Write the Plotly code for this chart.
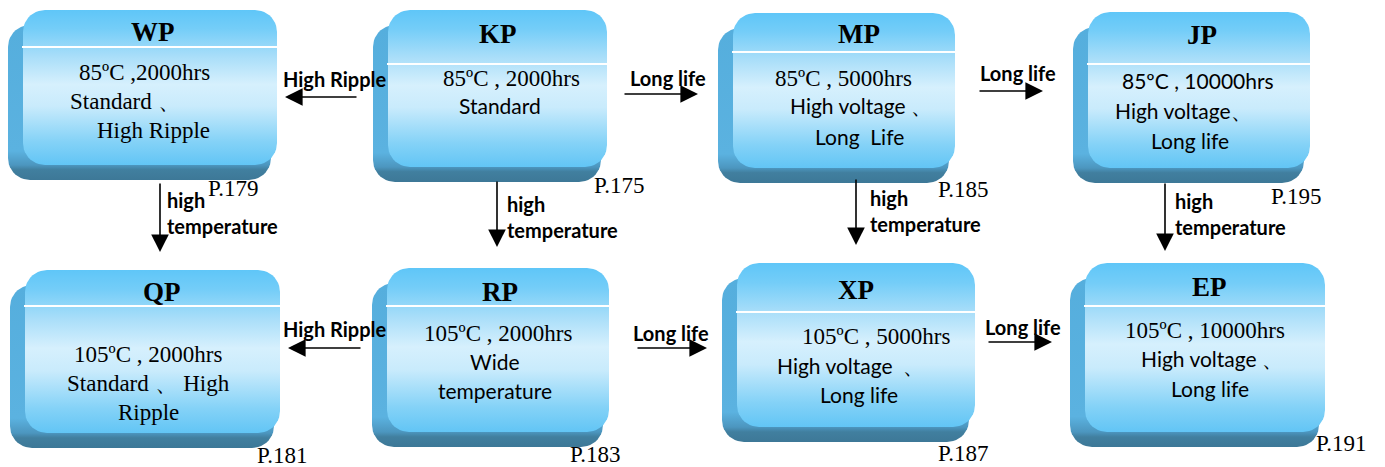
import numpy as np
import plotly.graph_objects as go

# ---------------- data ----------------
series_names = ["WP", "KP", "MP", "JP", "QP", "RP", "XP", "EP"]
series_lines = {
    "WP": [("85ºC ,2000hrs", "serif"), ("Standard 、", "serif"), ("High Ripple", "serif")],
    "KP": [("85ºC , 2000hrs", "serif"), ("Standard", "sans")],
    "MP": [("85ºC , 5000hrs", "serif"), ("High voltage 、", "sans"), ("Long  Life", "sans")],
    "JP": [("85ºC , 10000hrs", "sans"), ("High voltage、", "sans"), ("Long life", "sans")],
    "QP": [("105ºC , 2000hrs", "serif"), ("Standard 、 High", "serif"), ("Ripple", "serif")],
    "RP": [("105ºC , 2000hrs", "serif"), ("Wide", "sans"), ("temperature", "sans")],
    "XP": [("105ºC , 5000hrs", "serif"), ("High voltage  、", "sans"), ("Long life", "sans")],
    "EP": [("105ºC , 10000hrs", "serif"), ("High voltage 、", "sans"), ("Long life", "sans")],
}
page_labels = {"WP": "P.179", "KP": "P.175", "MP": "P.185", "JP": "P.195",
               "QP": "P.181", "RP": "P.183", "XP": "P.187", "EP": "P.191"}
transitions = [
    ("KP", "WP", "High Ripple"),
    ("KP", "MP", "Long life"),
    ("MP", "JP", "Long life"),
    ("WP", "QP", "high<br>temperature"),
    ("KP", "RP", "high<br>temperature"),
    ("MP", "XP", "high<br>temperature"),
    ("JP", "EP", "high<br>temperature"),
    ("RP", "QP", "High Ripple"),
    ("RP", "XP", "Long life"),
    ("XP", "EP", "Long life"),
]

# ---------------- layout (pixel positions) ----------------
W, H = 1385, 467
face = {  # x0, x1, y0, y1, divider y, title y
    "WP": (23, 277, 10, 165, 47, 32),
    "KP": (388, 607, 10, 167, 64, 34),
    "MP": (733, 955, 13, 168, 52, 34),
    "JP": (1088, 1310, 12, 168, 64, 35),
    "QP": (25, 280, 270, 433, 306, 292),
    "RP": (387, 609, 268, 432, 306, 292),
    "XP": (737, 975, 263, 427, 312, 290),
    "EP": (1085, 1325, 263, 432, 306, 287),
}
title_x = {"WP": 153, "KP": 498, "MP": 859, "JP": 1202, "QP": 162, "RP": 500, "XP": 856, "EP": 1209}
line_pos = {
    "WP": [(144, 72), (125, 101), (153, 130)],
    "KP": [(511, 78), (500, 105)],
    "MP": [(843, 78), (861, 105), (859, 136)],
    "JP": [(1198, 80), (1183, 110), (1190, 140)],
    "QP": [(148, 354), (148, 383), (148, 412)],
    "RP": [(498, 333), (495, 361), (495, 390)],
    "XP": [(876, 336), (850, 365), (859, 394)],
    "EP": [(1205, 330), (1212, 358), (1210, 388)],
}
page_pos = {"WP": (233, 188), "KP": (619, 185), "MP": (963, 189), "JP": (1296, 196),
            "QP": (282, 455), "RP": (595, 454), "XP": (963, 453), "EP": (1341, 443)}
arrow_geom = [  # tail (x,y), head (x,y), label (x,y,anchor)
    ((358, 97), (285, 97), (335, 79, "center")),
    ((623, 94), (698, 94), (668, 78, "center")),
    ((978, 91), (1043, 91), (1018, 73, "center")),
    ((160, 182), (160, 252), (165, 213, "left")),
    ((497, 180), (497, 247), (505, 217, "left")),
    ((856, 178), (856, 245), (868, 211, "left")),
    ((1165, 182), (1165, 251), (1173, 214, "left")),
    ((362, 348), (288, 348), (335, 329, "center")),
    ((636, 348), (707, 348), (671, 333, "center")),
    ((987, 342), (1052, 342), (1023, 327, "center")),
]

SERIF = "Liberation Serif"
SANS = "Lato"
R = 22
SHIFT = 15


def rounded_rect(x0, x1, y0, y1, r):
    xs, ys = [], []
    corners = [(x1 - r, y0 + r, -90, 0), (x1 - r, y1 - r, 0, 90),
               (x0 + r, y1 - r, 90, 180), (x0 + r, y0 + r, 180, 270)]
    for cx, cy, a0, a1 in corners:
        t = np.radians(np.linspace(a0, a1, 12))
        xs.extend(cx + r * np.cos(t))
        ys.extend(cy + r * np.sin(t))
    xs.append(xs[0])
    ys.append(ys[0])
    return xs, ys


fig = go.Figure()

face_scale = [[0, "#5fc6f8"], [0.12, "#74cdf8"], [0.3, "#a9def9"], [0.48, "#d6f0fd"],
              [0.62, "#c9ebfc"], [0.85, "#84d2f7"], [1, "#62c5f5"]]

for name in series_names:
    x0, x1, y0, y1, dy, ty = face[name]
    # shadow / bevel body
    sx0, sx1, sy0, sy1 = x0 - SHIFT, x1 - 6, y0 + SHIFT, y1 + SHIFT
    f = (y1 - sy0) / (sy1 - sy0)
    xs, ys = rounded_rect(sx0, sx1, sy0, sy1, R)
    fig.add_trace(go.Scatter(
        x=xs, y=ys, mode="lines", fill="toself", line=dict(width=0),
        fillgradient=dict(type="vertical", start=sy0, stop=sy1,
                          colorscale=[[0, "#55aedd"], [f * 0.9, "#5bb2e0"], [f, "#4c96bf"],
                                      [min(f + 0.03, 1), "#417f9f"], [1, "#3d7897"]]),
        hoverinfo="skip", showlegend=False))
    # top face
    xs, ys = rounded_rect(x0, x1, y0, y1, R)
    fig.add_trace(go.Scatter(
        x=xs, y=ys, mode="lines", fill="toself", line=dict(width=0),
        fillgradient=dict(type="vertical", start=y0, stop=y1, colorscale=face_scale),
        hoverinfo="skip", showlegend=False))
    # divider
    fig.add_shape(type="line", x0=x0 - 1, x1=x1, y0=dy, y1=dy,
                  line=dict(color="white", width=2))
    # title
    fig.add_annotation(x=title_x[name], y=ty, text=f"<b>{name}</b>", showarrow=False,
                       font=dict(family=SERIF, size=27, color="black"),
                       xanchor="center", yanchor="middle")
    # description lines
    for (txt, kind), (lx, ly) in zip(series_lines[name], line_pos[name]):
        fig.add_annotation(x=lx, y=ly, text=txt, showarrow=False,
                           font=dict(family=SERIF if kind == "serif" else SANS,
                                     size=23 if kind == "serif" else 21, color="black"),
                           xanchor="center", yanchor="middle")
    # page label
    px, py = page_pos[name]
    fig.add_annotation(x=px, y=py, text=page_labels[name], showarrow=False,
                       font=dict(family=SERIF, size=23, color="black"),
                       xanchor="center", yanchor="middle")

for (src, dst, label), (tail, head, lab) in zip(transitions, arrow_geom):
    fig.add_annotation(x=head[0], y=head[1], ax=tail[0], ay=tail[1],
                       xref="x", yref="y", axref="x", ayref="y", text="",
                       showarrow=True, arrowhead=2, arrowsize=2.2, arrowwidth=1.6,
                       arrowcolor="black", standoff=0, startstandoff=0)
    fig.add_annotation(x=lab[0], y=lab[1], text=f"<b>{label}</b>", showarrow=False,
                       font=dict(family=SANS, size=20, color="black"),
                       xanchor=lab[2], yanchor="middle", align="left")

fig.update_layout(
    width=W, height=H, margin=dict(l=0, r=0, t=0, b=0),
    paper_bgcolor="white", plot_bgcolor="white",
    xaxis=dict(range=[0, W], visible=False, fixedrange=True),
    yaxis=dict(range=[H, 0], visible=False, fixedrange=True),
    showlegend=False,
)

fig.write_html("out.html", config={"displayModeBar": False},
               post_script="document.body.style.margin='0';document.body.style.padding='0';"
                           "document.body.style.overflow='hidden';")
